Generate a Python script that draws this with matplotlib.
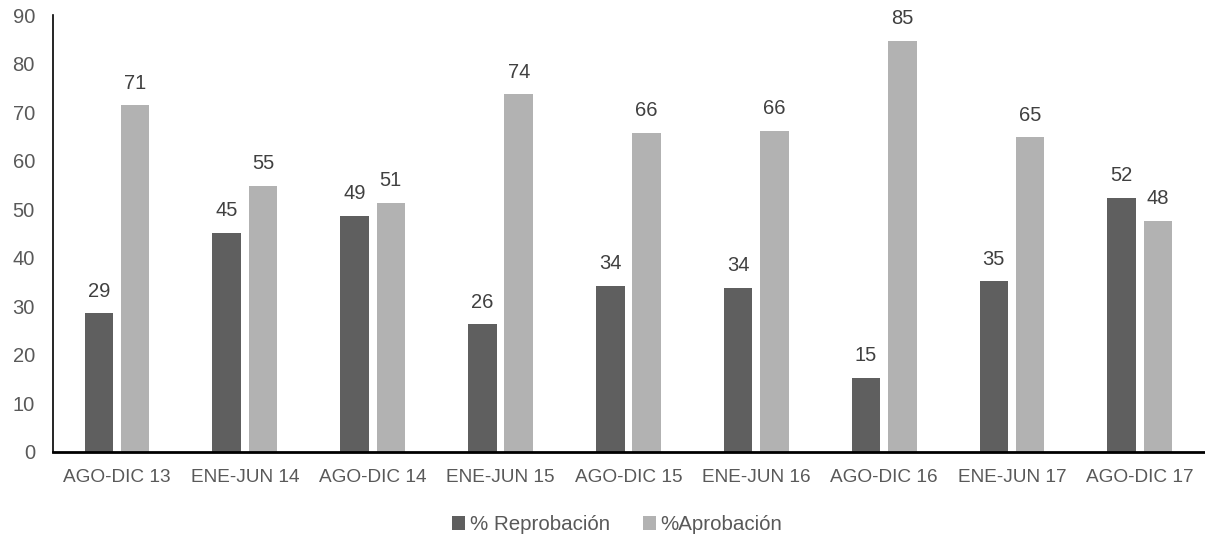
import matplotlib.pyplot as plt
import numpy as np

periods = ['AGO-DIC 13', 'ENE-JUN 14', 'AGO-DIC 14', 'ENE-JUN 15', 'AGO-DIC 15',
           'ENE-JUN 16', 'AGO-DIC 16', 'ENE-JUN 17', 'AGO-DIC 17']
reprobacion = [28.6, 45.2, 48.7, 26.3, 34.2, 33.8, 15.3, 35.2, 52.4]
aprobacion = [71.4, 54.8, 51.3, 73.7, 65.8, 66.2, 84.7, 64.8, 47.6]

plt.rcParams['font.family'] = ['Liberation Sans', 'DejaVu Sans']

fig = plt.figure(figsize=(12.05, 5.4), dpi=100)
ax = fig.add_axes([0.044, 0.163, 0.955, 0.809])

x = np.arange(len(periods))
w = 0.223
off = 0.142
b1 = ax.bar(x - off, reprobacion, w, color='#5f5f5f', label='% Reprobación')
b2 = ax.bar(x + off, aprobacion, w, color='#b2b2b2', label='%Aprobación')

# value labels above each bar
for bars in (b1, b2):
    for rect in bars:
        h = rect.get_height()
        ax.annotate(f'{h:.0f}', (rect.get_x() + rect.get_width() / 2, h),
                    xytext=(0, 9), textcoords='offset points',
                    ha='center', va='bottom', fontsize=14.5, color='#404040')

ax.set_xlim(-0.5, len(periods) - 0.5)
ax.set_ylim(0, 90)
ax.set_yticks(range(0, 91, 10))
ax.set_xticks(x)
ax.set_xticklabels(periods)
ax.tick_params(axis='both', length=0, labelcolor='#595959')
ax.tick_params(axis='y', pad=13, labelsize=14.5)
ax.tick_params(axis='x', pad=12, labelsize=13.7)

for s in ('top', 'right'):
    ax.spines[s].set_visible(False)
ax.spines['left'].set_linewidth(1.2)
ax.spines['bottom'].set_linewidth(2)

fig.legend(loc='center', bbox_to_anchor=(0.512, 0.028), ncol=2, frameon=False,
           fontsize=14.8, labelcolor='#595959', handlelength=0.65, handleheight=0.65,
           handletextpad=0.2, columnspacing=1.6)

fig.savefig('out.png', dpi=100)
